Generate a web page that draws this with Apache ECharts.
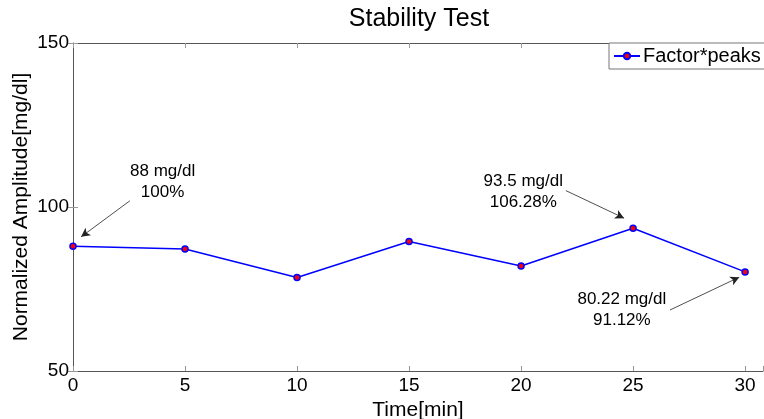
<!DOCTYPE html>
<html>
<head>
<meta charset="utf-8">
<script src="https://cdn.jsdelivr.net/npm/echarts@6/dist/echarts.min.js"></script>
<style>
  html, body { margin: 0; padding: 0; background: #fff; }
  #chart { width: 764px; height: 419px; }
</style>
</head>
<body>
<div id="chart"></div>
<script>
const times = [0, 5, 10, 15, 20, 25, 30];
const amplitudes = [88, 87.2, 78.5, 89.5, 82, 93.5, 80.22];
const seriesName = 'Factor*peaks';

// note text, where the text sits, arrow start and arrow tip (data coords)
const noteTexts = ['88 mg/dl\n100%', '93.5 mg/dl\n106.28%', '80.22 mg/dl\n91.12%'];
const noteAt = [[4.0, 107.6], [20.1, 104.6], [24.5, 68.6]];
const arrowFrom = [[2.54, 101.9], [22.0, 105.0], [26.65, 68.6]];
const arrowTo = [[0.36, 90.9], [24.6, 96.6], [29.74, 78.6]];

const font = 'Arial, "Liberation Sans", sans-serif';
const axisGray = '#555';

const chart = echarts.init(document.getElementById('chart'));

const boxAxis = {
    axisLine: { show: true, lineStyle: { color: axisGray, width: 1 } },
    axisTick: { show: true, inside: true, length: 5, lineStyle: { color: '#999' } },
    splitLine: { show: false }
};

const option = {
    animation: false,
    textStyle: { fontFamily: font },
    title: {
        text: 'Stability Test',
        left: 414,
        textAlign: 'center',
        top: 2,
        textStyle: { fontSize: 25, fontWeight: 'normal', color: '#000', fontFamily: font }
    },
    legend: {
        data: [seriesName],
        left: 609,
        top: 43,
        backgroundColor: '#fff',
        borderColor: '#777',
        borderWidth: 1,
        padding: [3, 40, 3, 4],
        itemWidth: 26,
        itemHeight: 8,
        itemGap: 4,
        textStyle: { fontSize: 20, color: '#000', fontFamily: font, padding: [0, 0, 0, -2] }
    },
    grid: { left: 73, right: 1, top: 43, bottom: 48, containLabel: false, outerBoundsMode: 'none' },
    xAxis: [
        Object.assign({}, boxAxis, {
            type: 'value', min: 0, max: 30.8, interval: 5,
            position: 'bottom',
            name: 'Time[min]', nameLocation: 'middle', nameGap: 24,
            nameTextStyle: { fontSize: 21, color: '#000', fontFamily: font },
            axisLabel: {
                color: '#000', fontSize: 19, margin: 5, fontFamily: font,
                formatter: v => (v <= 30 ? String(v) : '')
            }
        }),
        Object.assign({}, boxAxis, {
            type: 'value', min: 0, max: 30.8, interval: 5,
            position: 'top', axisLabel: { show: false }
        })
    ],
    yAxis: [
        Object.assign({}, boxAxis, {
            type: 'value', min: 50, max: 150, interval: 50,
            position: 'left',
            name: 'Normalized Amplitude[mg/dl]', nameLocation: 'middle', nameGap: 41,
            nameMoveOverlap: false,
            nameTextStyle: { fontSize: 21, color: '#000', fontFamily: font },
            axisLabel: { color: '#000', fontSize: 19, margin: 4, fontFamily: font }
        }),
        Object.assign({}, boxAxis, {
            type: 'value', min: 50, max: 150, interval: 50,
            position: 'right',
            axisLine: { show: false },
            axisLabel: { show: false }
        })
    ],
    series: [
        {
            name: seriesName,
            type: 'line',
            data: times.map((t, i) => [t, amplitudes[i]]),
            symbol: 'circle',
            symbolSize: 6,
            lineStyle: { color: '#0000ff', width: 1.5 },
            itemStyle: { color: '#ff0000', borderColor: '#0000ff', borderWidth: 1.5 },
            markLine: {
                silent: true,
                symbol: ['none', 'arrow'],
                symbolSize: [7, 9],
                label: { show: false },
                lineStyle: { color: '#222', width: 0.8, type: 'solid' },
                data: arrowFrom.map((p, i) => [
                    { coord: p, symbol: 'none' },
                    { coord: arrowTo[i], symbol: 'arrow' }
                ])
            },
            markPoint: {
                silent: true,
                symbol: 'circle',
                symbolSize: 0,
                label: {
                    show: true,
                    position: 'inside',
                    color: '#000',
                    fontSize: 17,
                    lineHeight: 21,
                    align: 'center',
                    fontFamily: font
                },
                data: noteTexts.map((txt, i) => ({
                    coord: noteAt[i],
                    value: txt,
                    label: { formatter: txt }
                }))
            }
        }
    ]
};

chart.setOption(option);
</script>
</body>
</html>
